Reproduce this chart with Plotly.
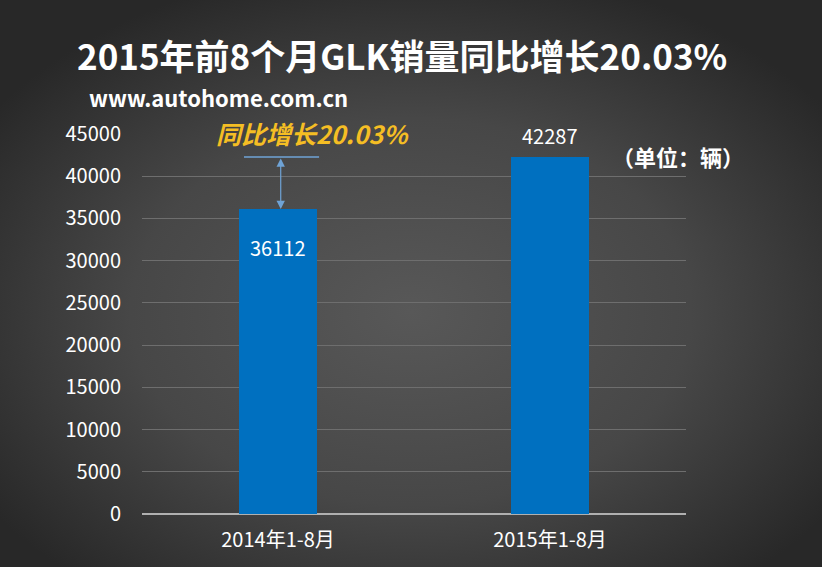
import base64
import plotly.graph_objects as go

categories = ["2014年1-8月", "2015年1-8月"]
sales = [36112, 42287]
growth_label = "同比增长20.03%"
title_text = "2015年前8个月GLK销量同比增长20.03%"
source_text = "www.autohome.com.cn"
unit_text = "（单位：辆）"
y_ticks = [0, 5000, 10000, 15000, 20000, 25000, 30000, 35000, 40000, 45000]

W, H = 822, 567
L, R, T, B = 142, 136, 134, 53
PW, PH = W - L - R, H - T - B

FONT = "Noto Sans CJK SC, Microsoft YaHei, sans-serif"

svg = f'''<svg xmlns="http://www.w3.org/2000/svg" width="{W}" height="{H}" viewBox="0 0 {W} {H}" preserveAspectRatio="none">
<defs><radialGradient id="g" cx="0.5" cy="0.55" r="0.62" gradientUnits="objectBoundingBox">
<stop offset="0" stop-color="#585858"/><stop offset="0.55" stop-color="#474747"/><stop offset="1" stop-color="#282828"/>
</radialGradient></defs><rect width="{W}" height="{H}" fill="url(#g)"/></svg>'''
bg_uri = "data:image/svg+xml;base64," + base64.b64encode(svg.encode()).decode()

x_idx = list(range(len(categories)))

fig = go.Figure()
fig.add_trace(go.Bar(
    x=x_idx, y=sales, width=0.29,
    marker=dict(color="#0070C0", line=dict(width=0)),
    hoverinfo="skip",
))

annotations = [
    dict(x=x_idx[0], y=sales[0], xref="x", yref="y", text=str(sales[0]), showarrow=False,
         yshift=-38, font=dict(family=FONT, size=20, color="#ffffff")),
    dict(x=x_idx[1], y=sales[1], xref="x", yref="y", text=str(sales[1]), showarrow=False,
         yshift=21, font=dict(family=FONT, size=20, color="#ffffff")),
    # double-headed arrow between the two levels
    dict(x=0.01, y=sales[0], xref="x", yref="y", ax=0.01, ay=sales[1], axref="x", ayref="y",
         text="", showarrow=True, arrowhead=2, startarrowhead=2, arrowside="end+start",
         arrowsize=1.4, arrowwidth=1.2, arrowcolor="#6fa3d6", standoff=0, startstandoff=0),
    dict(x=0.125, y=sales[1], xref="x", yref="y", text=f"<b><i>{growth_label}</i></b>", showarrow=False,
         yshift=24, font=dict(family=FONT, size=25, color="#F5BE24")),
    dict(x=0.5, y=1 + 80 / PH, xref="paper", yref="paper", text=f"<b>{title_text}</b>", showarrow=False,
         xanchor="center", yanchor="middle", xshift=-12, font=dict(family=FONT, size=35, color="#ffffff")),
    dict(x=(87 - L) / PW, y=1 + 37 / PH, xref="paper", yref="paper", text=f"<b>{source_text}</b>",
         showarrow=False, xanchor="left", yanchor="middle", font=dict(family=FONT, size=22, color="#ffffff")),
    dict(x=(610 - L) / PW, y=sales[1], xref="paper", yref="y", text=f"<b>{unit_text}</b>", showarrow=False,
         xanchor="left", yanchor="middle", yshift=1, font=dict(family=FONT, size=22, color="#ffffff")),
]

fig.add_shape(type="line", x0=-0.125, x1=0.151, y0=sales[1], y1=sales[1], xref="x", yref="y",
              line=dict(color="#6fa3d6", width=1.5))

fig.update_layout(
    width=W, height=H,
    margin=dict(l=L, r=R, t=T, b=B, pad=0),
    paper_bgcolor="#333333", plot_bgcolor="rgba(0,0,0,0)",
    showlegend=False,
    annotations=annotations,
    images=[dict(source=bg_uri, xref="paper", yref="paper", x=-L / PW, y=1 + T / PH,
                 sizex=W / PW, sizey=H / PH, sizing="stretch", layer="below",
                 xanchor="left", yanchor="top")],
    xaxis=dict(range=[-0.5, 1.5], tickmode="array", tickvals=x_idx, ticktext=categories,
               showgrid=False, zeroline=False, showline=False, ticks="",
               tickfont=dict(family=FONT, size=20, color="#ffffff"), ticklabelstandoff=12),
    yaxis=dict(range=[0, 45000], tickmode="array", tickvals=y_ticks, ticktext=[str(t) for t in y_ticks],
               showgrid=True, gridcolor="#6e6e6e", gridwidth=1, zeroline=True, zerolinecolor="#b0b0b0",
               zerolinewidth=1.5, showline=False, ticks="",
               tickfont=dict(family=FONT, size=20, color="#ffffff"), ticklabelstandoff=20),
    bargap=0,
)

fig.write_html("out.html", config={"displayModeBar": False},
               post_script="document.body.style.margin='0';document.body.style.padding='0';")
